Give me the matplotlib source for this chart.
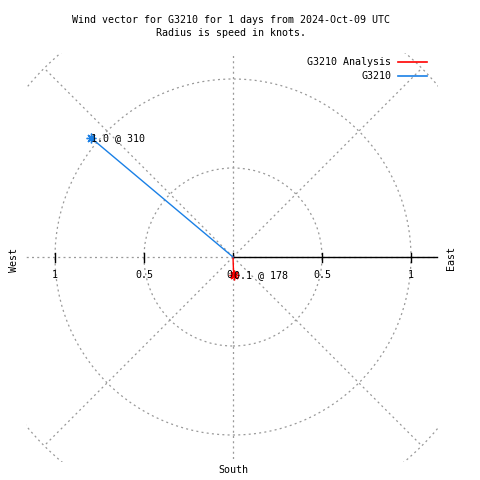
import numpy as np
import matplotlib
matplotlib.use("Agg")
import matplotlib.pyplot as plt
from matplotlib.patches import Rectangle, Circle

# wind vectors: compass direction (deg), speed (knots)
names = ["G3210 Analysis", "G3210"]
speeds = [0.1, 1.04]
directions = [178, 310]
colors = ["#ff0000", "#1a80e6"]

grid_radii = [0.5, 1.0, 1.5]
grid_angles = np.arange(0, 360, 45)
tick_vals = [0.5, 1.0]

title = "Wind vector for G3210 for 1 days from 2024-Oct-09 UTC\nRadius is speed in knots."

plt.rcParams["font.family"] = ["DejaVu Sans Mono"]
fs = 7.2
grey = "#999999"

fig = plt.figure(figsize=(4.8, 4.8), dpi=100)
# axes over whole figure; center of the polar plot at pixel (233, 257), 178 px per knot
cx, cy, scale = 233, 257, 178
ax = fig.add_axes([0, 0, 1, 1])
ax.set_xlim((0 - cx) / scale, (480 - cx) / scale)
ax.set_ylim((cy - 480) / scale, cy / scale)
ax.axis("off")

box = Rectangle((-1.163, -1.152), 1.163 + 1.152, 1.152 + 1.146, transform=ax.transData,
                fill=False, visible=False)
ax.add_patch(box)

dash = (0, (1.6, 2.6))
for r in grid_radii:
    c = Circle((0, 0), r, fill=False, ec=grey, lw=0.9, ls=dash)
    ax.add_patch(c)
    c.set_clip_path(box)
for a in grid_angles:
    t = np.radians(a)
    ln, = ax.plot([0, 1.5 * np.cos(t)], [0, 1.5 * np.sin(t)], color=grey, lw=0.9, ls=dash)
    ln.set_clip_path(box)

# horizontal zero axis to the east with ticks
ax.plot([0, 1.146], [0, 0], color="black", lw=1.0)
tk = 4.5 / scale
for v in tick_vals:
    for s in (-1, 1):
        ax.plot([s * v, s * v], [-tk, tk], color="black", lw=1.0)
ax.plot([0, 0], [0, tk], color="black", lw=1.0)

ty = -18 / scale
for v in tick_vals:
    lab = "%g" % v
    ax.text(-v, ty, lab, ha="center", va="center", fontsize=fs)
    ax.text(v, ty, lab, ha="center", va="center", fontsize=fs)
ax.text(-1 / scale, ty, "0", ha="right", va="center", fontsize=fs)

# vectors
for name, s, d, col in zip(names, speeds, directions, colors):
    t = np.radians(90 - d)
    x, y = s * np.cos(t), s * np.sin(t)
    ax.plot([0, x], [0, y], color=col, lw=1.0, label=name)
    ax.plot([x], [y], marker=(8, 2, 0), ms=7, mec=col, mew=1.0, ls="none")
    ax.text(x, y, "%.1f @ %d" % (s, d), ha="left", va="center", fontsize=fs)

# compass labels
def px(x, y):
    return x / 480, 1 - y / 480

fig.text(*px(14, 260), "West", rotation=90, ha="center", va="center", fontsize=fs)
fig.text(*px(451, 258), "East", rotation=90, ha="center", va="center", fontsize=fs)
fig.text(*px(233, 470), "South", ha="center", va="center", fontsize=fs)
fig.text(*px(231, 26.5), title, ha="center", va="center", fontsize=fs, linespacing=1.35)

# legend
for i, (name, col) in enumerate(zip(names, colors)):
    ly = 62 + 14 * i
    fig.text(*px(391, ly), name, ha="right", va="center", fontsize=fs)
    fig.add_artist(plt.Line2D([398 / 480, 427 / 480], [1 - ly / 480, 1 - ly / 480],
                              color=col, lw=1.2, transform=fig.transFigure))

fig.savefig("out.png", dpi=100)
